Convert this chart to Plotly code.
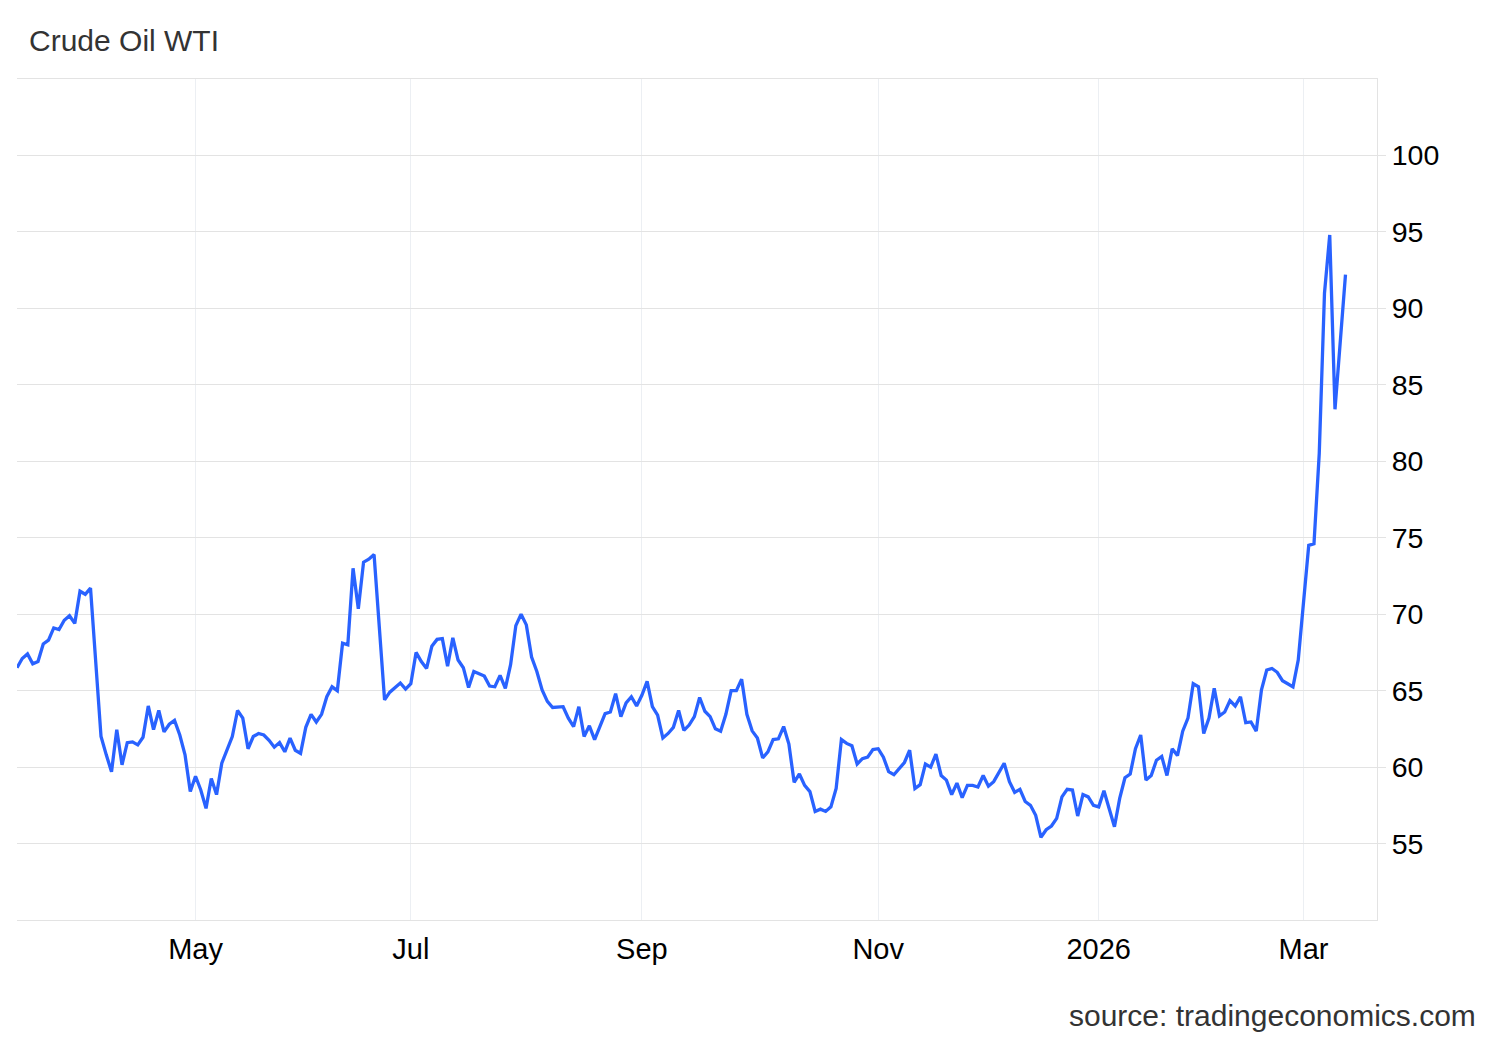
import pandas as pd
import plotly.graph_objects as go

# trading days: weekdays from first to last close, minus days without a settlement
first_day = "2025-03-13"
last_day = "2026-03-12"
no_trade_days = [
    "2025-04-18", "2025-05-26", "2025-06-19", "2025-12-25",
    "2026-01-01", "2026-01-19", "2026-02-16",
]

# daily close, USD/bbl
wti_close = [
    # Mar 2025
    66.5, 67.1, 67.4, 66.75, 66.9, 68.05, 68.3, 69.1, 69.0, 69.6, 69.9, 69.4, 71.5,
    # Apr
    71.3, 71.7, 66.9, 62.0, 60.8, 59.7, 62.45, 60.15, 61.6, 61.65, 61.45, 61.95,
    64.0, 62.45, 63.7, 62.3, 62.8, 63.05, 62.1, 60.8, 58.4,
    # May
    59.4, 58.5, 57.3, 59.25, 58.2, 60.25, 61.1, 62.0, 63.7, 63.2, 61.2, 62.0,
    62.2, 62.1, 61.75, 61.3, 61.6, 61.0, 61.9, 61.1, 60.9,
    # Jun
    62.6, 63.45, 62.95, 63.45, 64.6, 65.25, 65.0, 68.1, 68.0, 73.0, 70.35, 73.4,
    73.6, 73.9, 68.8, 64.4, 64.9, 65.2, 65.5, 65.1,
    # Jul
    65.45, 67.5, 66.9, 66.45, 67.9, 68.35, 68.4, 66.6, 68.45, 67.0, 66.5, 65.2,
    66.25, 66.1, 65.95, 65.3, 65.25, 66.0, 65.15, 66.7, 69.25, 70.0, 69.3,
    # Aug
    67.2, 66.25, 65.05, 64.3, 63.9, 63.9, 63.95, 63.2, 62.65, 63.95, 62.0, 62.7,
    61.8, 62.65, 63.5, 63.6, 64.8, 63.3, 64.2, 64.6, 64.0,
    # Sep
    64.7, 65.6, 63.95, 63.4, 61.9, 62.2, 62.6, 63.7, 62.4, 62.75, 63.3, 64.55,
    63.65, 63.3, 62.5, 62.35, 63.45, 65.0, 65.0, 65.75, 63.45, 62.37,
    # Oct
    61.9, 60.6, 61.0, 61.8, 61.85, 62.65, 61.5, 59.0, 59.55, 58.8, 58.4, 57.1,
    57.25, 57.1, 57.4, 58.6, 61.8, 61.55, 61.4, 60.2, 60.55, 60.65, 61.15,
    # Nov
    61.2, 60.65, 59.7, 59.5, 59.9, 60.3, 61.1, 58.6, 58.85, 60.2, 60.0, 60.85,
    59.45, 59.15, 58.2, 58.95, 58.0, 58.8, 58.8, 58.7,
    # Dec
    59.45, 58.75, 59.05, 59.7, 60.25, 59.05, 58.35, 58.55, 57.75, 57.5, 56.85,
    55.4, 55.9, 56.15, 56.65, 58.05, 58.55, 58.5, 56.8, 58.2, 58.05, 57.5,
    # Jan 2026
    57.4, 58.45, 57.3, 56.1, 57.95, 59.3, 59.55, 61.2, 62.1, 59.15, 59.45, 60.45,
    60.7, 59.45, 61.2, 60.75, 62.35, 63.2, 65.45, 65.25,
    # Feb
    62.2, 63.2, 65.15, 63.35, 63.6, 64.35, 64.0, 64.6, 62.9, 62.95, 62.35, 65.05,
    66.35, 66.45, 66.2, 65.65, 65.45, 65.25, 67.0,
    # Mar
    70.8, 74.5, 74.6, 80.5, 91.0, 94.8, 83.4, 87.8, 92.2,
]

tick_dates = ["2025-05-01", "2025-07-01", "2025-09-01", "2025-11-03", "2026-01-02", "2026-03-02"]
tick_labels = ["May", "Jul", "Sep", "Nov", "2026", "Mar"]
price_ticks = [55, 60, 65, 70, 75, 80, 85, 90, 95, 100]

dates = [d for d in pd.bdate_range(first_day, last_day) if d.strftime("%Y-%m-%d") not in no_trade_days]
assert len(dates) == len(wti_close)

font_family = "Liberation Sans, Arial, sans-serif"

# the page body adds an 8px offset, so the figure is 8px smaller and shifted
W, H = 1492, 1032

fig = go.Figure(
    go.Scatter(
        x=dates,
        y=wti_close,
        mode="lines",
        line=dict(color="#2962ff", width=3.3),
        name="Crude Oil WTI",
    )
)

fig.update_layout(
    width=W,
    height=H,
    margin=dict(l=9, r=123, t=71, b=120),
    paper_bgcolor="white",
    plot_bgcolor="white",
    showlegend=False,
    font=dict(family=font_family, color="#000000"),
    title=dict(
        text="Crude Oil WTI",
        font=dict(family=font_family, size=30, color="#333333"),
        xref="container",
        yref="container",
        x=21 / W,
        y=1 - 32 / H,
        xanchor="left",
        yanchor="middle",
    ),
    annotations=[
        dict(
            text="source: tradingeconomics.com",
            xref="paper",
            yref="paper",
            x=(1478 - 17) / 1360,
            y=-(1016 - 920) / 841,
            xanchor="right",
            yanchor="middle",
            showarrow=False,
            font=dict(family=font_family, size=30, color="#333333"),
        )
    ],
)

fig.update_xaxes(
    range=["2025-03-13", "2026-03-20"],
    rangebreaks=[dict(bounds=["sat", "mon"]), dict(values=no_trade_days)],
    tickvals=tick_dates,
    ticktext=tick_labels,
    tickfont=dict(size=29, color="#000000"),
    ticks="",
    ticklabelstandoff=3,
    showgrid=True,
    gridcolor="#eceff3",
    gridwidth=1,
    showline=True,
    linecolor="#e3e3e3",
    linewidth=1,
    mirror=True,
    zeroline=False,
    automargin=False,
)

fig.update_yaxes(
    side="right",
    range=[50, 105],
    tickvals=price_ticks,
    tickfont=dict(size=28.5, color="#000000"),
    ticks="outside",
    ticklen=8,
    tickcolor="#e3e3e3",
    showgrid=True,
    gridcolor="#e3e3e3",
    gridwidth=1,
    showline=True,
    linecolor="#e3e3e3",
    linewidth=1,
    zeroline=False,
    automargin=False,
)

fig.write_html("out.html")
